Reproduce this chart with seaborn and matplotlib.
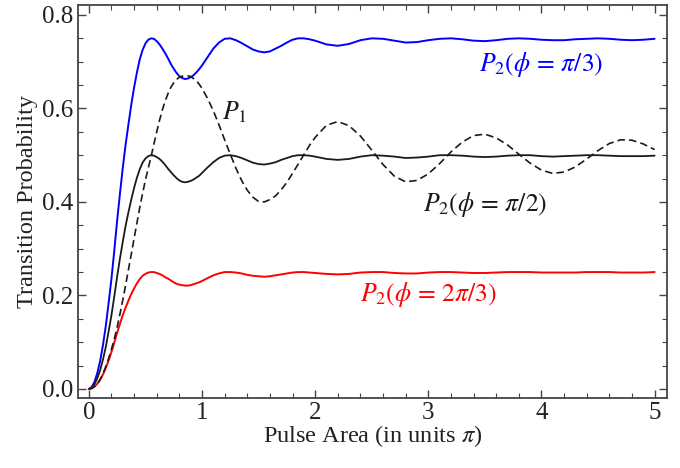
import numpy as np
import pandas as pd
import matplotlib
matplotlib.use("Agg")
import matplotlib.pyplot as plt
import seaborn as sns
from matplotlib.ticker import MultipleLocator, FormatStrFormatter

# pulse area grid (units of pi): fine near the first peak, coarser later
pulse = [0.000, 0.025, 0.050, 0.075, 0.100, 0.125, 0.150, 0.175, 0.200, 0.225,
         0.250, 0.275, 0.300, 0.325, 0.350, 0.375, 0.400, 0.425, 0.450, 0.475,
         0.500, 0.525, 0.550, 0.575, 0.600, 0.625, 0.650, 0.675, 0.700, 0.725,
         0.750, 0.775, 0.800, 0.825, 0.850, 0.875, 0.900, 0.925, 0.950, 0.975,
         1.00, 1.05, 1.10, 1.15, 1.20, 1.25, 1.30, 1.35, 1.40, 1.45,
         1.50, 1.55, 1.60, 1.65, 1.70, 1.75, 1.80, 1.85, 1.90, 1.95,
         2.0, 2.1, 2.2, 2.3, 2.4, 2.5, 2.6, 2.7, 2.8, 2.9,
         3.0, 3.1, 3.2, 3.3, 3.4, 3.5, 3.6, 3.7, 3.8, 3.9,
         4.0, 4.1, 4.2, 4.3, 4.4, 4.5, 4.6, 4.7, 4.8, 4.9, 5.0]

# P2, phi = pi/3
p2_pi3 = [0, 0.004, 0.015, 0.034, 0.06, 0.094, 0.135, 0.184, 0.236, 0.296,
          0.36, 0.418, 0.473, 0.523, 0.566, 0.608, 0.645, 0.677, 0.705, 0.725,
          0.739, 0.747, 0.75, 0.749, 0.744, 0.737, 0.728, 0.718, 0.707, 0.695,
          0.685, 0.676, 0.669, 0.665, 0.663, 0.664, 0.667, 0.671, 0.677, 0.684,
          0.692, 0.710, 0.728, 0.741, 0.749, 0.75, 0.746, 0.740, 0.733, 0.726,
          0.722, 0.72, 0.722, 0.728, 0.734, 0.741, 0.747, 0.75, 0.75, 0.748,
          0.745, 0.737, 0.734, 0.738, 0.746, 0.75, 0.749, 0.745, 0.741, 0.742,
          0.746, 0.749, 0.75, 0.748, 0.745, 0.744, 0.746, 0.749, 0.75, 0.749,
          0.747, 0.746, 0.746, 0.748, 0.749, 0.75, 0.749, 0.747, 0.746, 0.747, 0.749]

# P2, phi = pi/2
p2_pi2 = [0, 0.003, 0.01, 0.023, 0.04, 0.063, 0.09, 0.123, 0.158, 0.198,
          0.24, 0.279, 0.315, 0.349, 0.378, 0.405, 0.43, 0.452, 0.47, 0.484,
          0.493, 0.498, 0.5, 0.499, 0.496, 0.492, 0.486, 0.479, 0.471, 0.464,
          0.457, 0.451, 0.446, 0.443, 0.442, 0.443, 0.445, 0.448, 0.452, 0.456,
          0.462, 0.474, 0.485, 0.494, 0.499, 0.5, 0.498, 0.494, 0.489, 0.484,
          0.481, 0.48, 0.482, 0.485, 0.49, 0.494, 0.498, 0.5, 0.5, 0.499,
          0.497, 0.492, 0.49, 0.492, 0.497, 0.5, 0.499, 0.497, 0.494, 0.495,
          0.497, 0.5, 0.5, 0.499, 0.497, 0.496, 0.497, 0.499, 0.5, 0.5,
          0.498, 0.497, 0.498, 0.499, 0.5, 0.5, 0.499, 0.498, 0.498, 0.498, 0.499]

# P2, phi = 2pi/3
p2_2pi3 = [0, 0.001, 0.005, 0.011, 0.02, 0.031, 0.045, 0.061, 0.079, 0.099,
           0.12, 0.139, 0.158, 0.174, 0.189, 0.203, 0.215, 0.226, 0.235, 0.242,
           0.246, 0.249, 0.25, 0.25, 0.248, 0.246, 0.243, 0.239, 0.236, 0.232,
           0.228, 0.225, 0.223, 0.222, 0.221, 0.221, 0.222, 0.224, 0.226, 0.228,
           0.231, 0.237, 0.243, 0.247, 0.25, 0.25, 0.249, 0.247, 0.244, 0.242,
           0.241, 0.24, 0.241, 0.243, 0.245, 0.247, 0.249, 0.25, 0.25, 0.249,
           0.248, 0.246, 0.245, 0.246, 0.249, 0.25, 0.25, 0.248, 0.247, 0.247,
           0.249, 0.25, 0.25, 0.249, 0.248, 0.248, 0.249, 0.25, 0.25, 0.25,
           0.249, 0.249, 0.249, 0.249, 0.25, 0.25, 0.25, 0.249, 0.249, 0.249, 0.25]

# P1 (dashed)
p1 = [0, 0.001, 0.005, 0.011, 0.02, 0.032, 0.048, 0.065, 0.085, 0.107,
      0.132, 0.16, 0.19, 0.222, 0.255, 0.288, 0.322, 0.355, 0.388, 0.418,
      0.447, 0.472, 0.497, 0.524, 0.55, 0.575, 0.597, 0.616, 0.632, 0.645,
      0.655, 0.662, 0.667, 0.669, 0.670, 0.670, 0.668, 0.664, 0.659, 0.652,
      0.643, 0.621, 0.595, 0.565, 0.533, 0.502, 0.472, 0.446, 0.425, 0.410,
      0.401, 0.400, 0.405, 0.413, 0.426, 0.442, 0.461, 0.481, 0.501, 0.521,
      0.538, 0.564, 0.572, 0.563, 0.541, 0.511, 0.480, 0.455, 0.443, 0.446,
      0.460, 0.482, 0.507, 0.528, 0.542, 0.545, 0.537, 0.522, 0.502, 0.483,
      0.468, 0.461, 0.464, 0.475, 0.492, 0.510, 0.525, 0.533, 0.532, 0.524, 0.512]

sns.set_style("ticks")
plt.rcParams['font.family'] = ['Liberation Serif', 'DejaVu Serif']
plt.rcParams['mathtext.fontset'] = 'stix'

fig = plt.figure(figsize=(6.8, 4.68), dpi=100)
ax = fig.add_axes([0.114, 0.150, 0.867, 0.839])

sns.lineplot(x=pulse, y=p2_pi3, color="#0000ff", lw=1.4, ax=ax)
sns.lineplot(x=pulse, y=p2_pi2, color="#1a1a1a", lw=1.3, ax=ax)
sns.lineplot(x=pulse, y=p2_2pi3, color="#ff0000", lw=1.4, ax=ax)
sns.lineplot(x=pulse, y=p1, color="#1a1a1a", lw=1.2, ax=ax, linestyle=(0, (4.5, 2.5)))

lab = 18.5
ax.text(4.0, 0.695, r"$P_2(\phi\,=\,\pi/3)$", color="#0000ff", fontsize=lab, ha="center", va="center")
ax.text(1.29, 0.592, r"$P_1$", color="#1a1a1a", fontsize=lab, ha="center", va="center")
ax.text(3.5, 0.394, r"$P_2(\phi\,=\,\pi/2)$", color="#1a1a1a", fontsize=lab, ha="center", va="center")
ax.text(3.0, 0.203, r"$P_2(\phi\,=\,2\pi/3)$", color="#ff0000", fontsize=lab, ha="center", va="center")

ax.set_xlim(-0.1, 5.11)
ax.set_ylim(-0.019, 0.821)
ax.xaxis.set_major_locator(MultipleLocator(1))
ax.xaxis.set_minor_locator(MultipleLocator(0.2))
ax.yaxis.set_major_locator(MultipleLocator(0.2))
ax.yaxis.set_minor_locator(MultipleLocator(0.05))
ax.yaxis.set_major_formatter(FormatStrFormatter("%.1f"))

ax.tick_params(which="both", direction="in", top=True, right=True, color="#444444",
               labelsize=18, labelcolor="#222222", pad=3)
ax.tick_params(which="major", length=6, width=1)
ax.tick_params(which="minor", length=3.5, width=0.8)
for s in ax.spines.values():
    s.set_color("#444444")
    s.set_linewidth(1.3)

ax.set_xlabel(r"Pulse Area (in units $\pi$)", fontsize=17.5, color="#222222", labelpad=-1)
ax.set_ylabel("Transition Probability", fontsize=17.5, color="#222222", labelpad=3)

fig.savefig("out.png", dpi=100)
